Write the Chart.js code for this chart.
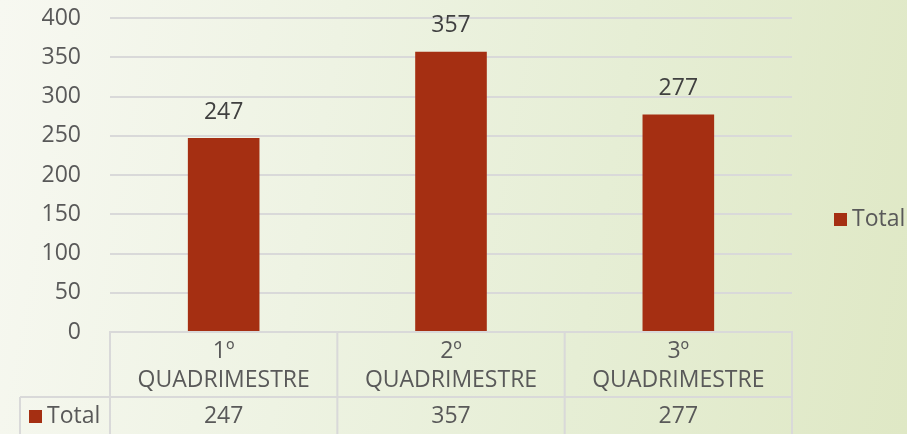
<!DOCTYPE html>
<html>
<head>
<meta charset="utf-8">
<script src="https://cdn.jsdelivr.net/npm/chart.js@4.4.0/dist/chart.umd.min.js"></script>
<style>
    html, body { margin: 0; padding: 0; }
    body {
        width: 907px;
        height: 434px;
        overflow: hidden;
        background: linear-gradient(100deg, #f7f8f1 0%, #eef3e3 35%, #e6eed5 65%, #dfe8c5 100%);
    }
</style>
</head>
<body>
<canvas id="myChart" width="907" height="434"></canvas>
<script>
const categories = [['1º', 'QUADRIMESTRE'], ['2º', 'QUADRIMESTRE'], ['3º', 'QUADRIMESTRE']];
const seriesName = 'Total';
const totals = [247, 357, 277];
const yMin = 0;
const yMax = 400;
const yStep = 50;

const barColor = '#a52f12';
const textColor = '#595959';
const labelColor = '#404040';
const lineColor = '#d9d9d9';
const fontFamily = "'Open Sans', 'DejaVu Sans', sans-serif";
const fontSize = 23;

// data labels, data table under the axis and the legend on the right
const tablePlugin = {
    id: 'tablePlugin',
    afterDraw(chart) {
        const ctx = chart.ctx;
        const area = chart.chartArea;
        const xScale = chart.scales.x;
        const meta = chart.getDatasetMeta(0);
        const rowTop = 397;
        const rowBottom = 434;
        const rowMid = 416;

        ctx.save();
        ctx.font = fontSize + 'px ' + fontFamily;
        ctx.textAlign = 'center';
        ctx.textBaseline = 'middle';

        // values above the bars
        ctx.fillStyle = labelColor;
        meta.data.forEach((bar, i) => {
            ctx.fillText(totals[i], bar.x, bar.y - 26);
        });

        // table lines
        const step = xScale.getPixelForValue(1) - xScale.getPixelForValue(0);
        ctx.strokeStyle = lineColor;
        ctx.lineWidth = 2;
        ctx.beginPath();
        const edges = [area.left];
        categories.forEach((c, i) => {
            edges.push(xScale.getPixelForValue(i) + step / 2);
        });
        edges.forEach(x => {
            ctx.moveTo(x, area.bottom);
            ctx.lineTo(x, rowBottom);
        });
        ctx.moveTo(20, rowTop);
        ctx.lineTo(area.right, rowTop);
        ctx.moveTo(20, rowTop);
        ctx.lineTo(20, rowBottom);
        ctx.stroke();

        // table row
        ctx.fillStyle = textColor;
        totals.forEach((v, i) => {
            ctx.fillText(v, xScale.getPixelForValue(i), rowMid);
        });
        ctx.fillStyle = barColor;
        ctx.fillRect(29, 410, 13, 13);
        ctx.fillStyle = textColor;
        ctx.textAlign = 'left';
        ctx.fillText(seriesName, 47, rowMid);

        // legend
        ctx.fillStyle = barColor;
        ctx.fillRect(834, 213, 13, 13);
        ctx.fillStyle = textColor;
        ctx.fillText(seriesName, 852, 219);
        ctx.restore();
    }
};

const ctx = document.getElementById('myChart');

new Chart(ctx, {
    type: 'bar',
    data: {
        labels: categories,
        datasets: [{
            label: seriesName,
            data: totals,
            backgroundColor: barColor,
            borderWidth: 0,
            categoryPercentage: 1,
            barPercentage: 0.315
        }]
    },
    options: {
        responsive: false,
        animation: false,
        devicePixelRatio: 1,
        layout: {
            padding: { top: 18, right: 115, left: 0, bottom: 0 }
        },
        plugins: {
            legend: { display: false },
            tooltip: { enabled: false }
        },
        scales: {
            x: {
                afterFit: function (scale) { scale.height = 102; },
                grid: { display: false, drawTicks: false },
                border: { display: true, color: lineColor, width: 2 },
                ticks: {
                    color: textColor,
                    font: { family: fontFamily, size: fontSize, lineHeight: 29 / fontSize },
                    padding: 5,
                    maxRotation: 0,
                    autoSkip: false
                }
            },
            y: {
                min: yMin,
                max: yMax,
                afterFit: function (scale) {
                    scale.width = 110;
                    scale.paddingTop = 0;
                },
                grid: { color: lineColor, lineWidth: 2, drawTicks: false },
                border: { display: false },
                ticks: {
                    stepSize: yStep,
                    color: textColor,
                    font: { family: fontFamily, size: fontSize },
                    padding: 29
                }
            }
        }
    },
    plugins: [tablePlugin]
});
</script>
</body>
</html>
